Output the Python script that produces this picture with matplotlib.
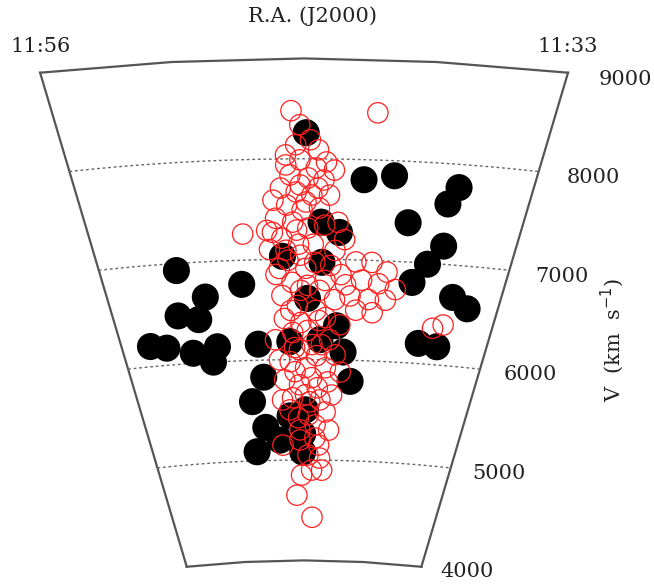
import numpy as np
import matplotlib.pyplot as plt

# Cone diagram: R.A. (minutes past 11h) against recession velocity (km/s)
ra_black = [44.4, 41.5, 40.0, 36.7, 37.1, 39.0, 36.9, 37.6, 38.3, 35.8,
            34.8, 37.3, 36.1, 43.6, 42.6, 45.7, 43.5, 51.7, 48.1, 50.3,
            52.1, 50.9, 44.3, 54.2, 53.2, 51.6, 50.0, 50.4, 47.4, 45.4,
            42.5, 43.5, 42.0, 41.4, 47.2, 48.1, 47.3, 45.5, 44.6, 48.1,
            44.6, 44.4, 46.3]
v_black = [8260, 7800, 7850, 7770, 7600, 7390, 7180, 6990, 6800, 6680,
           6580, 6200, 6180, 7370, 7270, 7030, 6970, 6930, 6760, 6650,
           6480, 6430, 6610, 6200, 6170, 6100, 6150, 6000, 6160, 6180,
           6340, 6200, 6080, 5790, 5830, 5590, 5330, 5440, 5260, 5090,
           5080, 5500, 5200]

ra_red = [45.1, 41.1, 47.8, 46.5, 43.8, 43.4, 44.7, 45.2, 44.3, 43.5,
          45.7, 44.9, 44.1, 43.2, 45.4, 44.6, 43.7, 46.0, 45.1, 44.3,
          45.7, 44.8, 44.0, 42.8, 45.4, 44.4, 46.1, 45.2, 42.4, 41.6,
          40.7, 39.8, 41.2, 40.2, 41.8, 40.7, 39.7, 40.4, 36.6, 36.0,
          45.8, 44.9, 43.8, 45.7, 44.7, 43.2, 45.2, 44.3, 42.9, 44.8,
          43.7, 45.4, 44.4, 43.1, 45.8, 44.8, 43.6, 42.6, 45.3, 44.1,
          43.0, 44.9, 43.7, 46.1, 43.4, 43.9, 43.1, 44.7, 45.1, 43.8,
          44.2, 44.9, 43.0, 46.1, 42.7, 46.4, 43.6, 42.7, 46.3, 42.1,
          46.0, 42.7, 44.8, 45.4, 43.9, 44.9, 44.7, 44.0, 46.1, 42.5,
          41.4, 39.2, 42.3, 44.7, 45.4, 43.9, 44.7, 43.8, 44.4, 43.4,
          45.5, 44.7, 43.3, 44.3, 45.3, 43.6, 42.3, 43.4, 45.1, 44.0,
          42.9, 45.1, 44.4, 43.4, 45.5, 44.2, 44.8, 43.7, 44.2, 43.3,
          42.1, 43.0, 46.2, 45.9]
v_red = [8480, 8470, 7260, 7290, 8090, 7970, 7990, 7840, 7810, 7790,
         7710, 7670, 7640, 7640, 7540, 7490, 7510, 7410, 7370, 7310,
         7210, 7150, 7150, 7090, 6990, 6910, 6850, 6770, 6850, 6980,
         6980, 6890, 6800, 6770, 6640, 6610, 6610, 6480, 6360, 6400,
         6640, 6540, 6490, 6410, 6370, 6420, 6270, 6290, 6200, 6100,
         6040, 5980, 5920, 5920, 5800, 5750, 5720, 5650, 5620, 5580,
         5480, 5420, 5350, 5150, 5150, 4900, 4900, 4850, 4650, 4430,
         8190, 8140, 7890, 7590, 7370, 7100, 6690, 6600, 6200, 5880,
         5600, 5300, 5200, 8040, 6970, 7290, 6690, 6150, 6000, 6050,
         6500, 6720, 7200, 8340, 7940, 7910, 7740, 7710, 7570, 7340,
         7090, 7040, 6790, 6740, 6490, 6390, 6350, 6150, 6120, 5820,
         5780, 5880, 5650, 5600, 5500, 5450, 5300, 5220, 5050, 5020,
         6750, 6940, 7270, 6910]

ra_left, ra_right = 56, 33
ra_labels = ['11:56', '11:33']
v_ticks = [4000, 5000, 6000, 7000, 8000, 9000]
v_min, v_max = v_ticks[0], v_ticks[-1]

half_angle = np.radians(10.2)
ra_mid = (ra_left + ra_right) / 2


def cone(ra, v):
    phi = (ra_mid - np.asarray(ra, float)) / (ra_left - ra_mid) * half_angle
    v = np.asarray(v, float)
    return v * np.sin(phi), v * np.cos(phi)


fig = plt.figure(figsize=(6.54, 5.86), dpi=100)
ax = fig.add_axes([0, 0, 1, 1])
ax.set_xlim(-1836, 2113)
ax.set_ylim(3745, 9582)
ax.axis('off')

font = dict(family='DejaVu Serif', fontsize=15, color='#222222')
edge_col = '#555555'

# outer boundary of the wedge
ra_coarse = np.linspace(ra_left, ra_right, 5)
for v in (v_min, v_max):
    ax.plot(*cone(ra_coarse, np.full_like(ra_coarse, v)), color=edge_col, lw=1.6, zorder=1)
for ra in (ra_left, ra_right):
    ax.plot(*cone([ra, ra], [v_min, v_max]), color=edge_col, lw=1.6, zorder=1)

# velocity grid
ra_fine = np.linspace(ra_left, ra_right, 40)
for v in v_ticks[1:-1]:
    ax.plot(*cone(ra_fine, np.full_like(ra_fine, v)), color='#666666', lw=1.0,
            ls=(0, (2, 2)), zorder=1)

ax.scatter(*cone(ra_black, v_black), s=380, c='black', edgecolors='none', zorder=2)
ax.scatter(*cone(ra_red, v_red), s=215, facecolors='none', edgecolors='#ff2020',
           linewidths=0.9, zorder=3)

# tick labels
for v in v_ticks:
    ax.annotate(str(v), xy=cone(ra_right - 0.9, v), xytext=(7, -3),
                textcoords='offset points', ha='left', va='center', **font)
for ra, lab in zip((ra_left, ra_right), ra_labels):
    ax.annotate(lab, xy=cone(ra, v_max), xytext=(0, 19),
                textcoords='offset points', ha='center', va='center', **font)

fig.text(313 / 654, 1 - 16 / 586, 'R.A. (J2000)', ha='center', va='center', **font)
fig.text(612 / 654, 1 - 340 / 586, r'V  (km  s$^{-1}$)', rotation=90,
         ha='center', va='center', **font)

fig.savefig('out.png', dpi=100)
